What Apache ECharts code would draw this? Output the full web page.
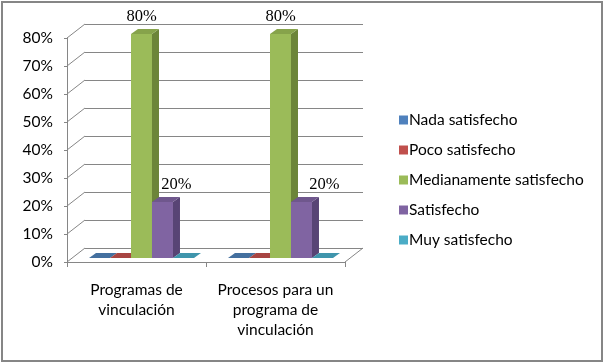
<!DOCTYPE html>
<html><head><meta charset="utf-8">
<script src="https://cdn.jsdelivr.net/npm/echarts@6/dist/echarts.min.js"></script>
<style>html,body{margin:0;padding:0;background:#fff}#c{width:603px;height:362px}</style>
</head><body><div id="c"></div>
<script>
// ---- data ----
const categories = ['Programas de\nvinculación', 'Procesos para un\nprograma de\nvinculación'];
const seriesNames = ['Nada satisfecho', 'Poco satisfecho', 'Medianamente satisfecho', 'Satisfecho', 'Muy satisfecho'];
const nadaSatisfecho = [0, 0];
const pocoSatisfecho = [0, 0];
const medianamenteSatisfecho = [0.8, 0.8];
const satisfecho = [0.2, 0.2];
const muySatisfecho = [0, 0];
const yTicks = [0, 0.1, 0.2, 0.3, 0.4, 0.5, 0.6, 0.7, 0.8];

const seriesValues = [nadaSatisfecho, pocoSatisfecho, medianamenteSatisfecho, satisfecho, muySatisfecho];

// ---- styles ----
const colors = ['#4F81BD', '#C0504D', '#9BBB59', '#8064A2', '#4BACC6'];
const topColors = ['#44709F', '#A84542', '#86A34B', '#6F578D', '#3F95AC'];
const sideColors = ['#375A80', '#873633', '#6C8539', '#584475', '#327A8C'];
const wallDepth = [18, -14];
const barFront = [5, -4];
const barDepth = [7, -5];
const barFrac = 0.151;
const labelShift = {3: [14, 23]};
const gridColor = '#868686';
const sansFont = 'Lato, "Open Sans", sans-serif';

const chart = echarts.init(document.getElementById('c'));

function barRender(k) {
  return function (params, api) {
    const ci = api.value(0), v = api.value(1);
    const base = api.coord([ci, 0]);
    const top = api.coord([ci, v]);
    const catW = api.size([1, 0])[0];
    const bw = catW * barFrac;
    const x0 = base[0] - 2.5 * bw + k * bw + barFront[0];
    const x1 = x0 + bw;
    const yb = base[1] + barFront[1];
    const yt = top[1] + barFront[1];
    const dx = barDepth[0], dy = barDepth[1];
    const children = [];
    if (yb - yt > 0.5) {
      children.push({type: 'polygon', shape: {points: [[x0, yb], [x1, yb], [x1, yt], [x0, yt]]}, style: {fill: colors[k]}});
      children.push({type: 'polygon', shape: {points: [[x1, yb], [x1 + dx, yb + dy], [x1 + dx, yt + dy], [x1, yt]]}, style: {fill: sideColors[k]}});
    }
    children.push({type: 'polygon', shape: {points: [[x0, yt], [x1, yt], [x1 + dx, yt + dy], [x0 + dx, yt + dy]]}, style: {fill: topColors[k]}});
    if (v > 0) {
      const sh = labelShift[k] ? labelShift[k][ci] : 0;
      children.push({type: 'text', style: {text: Math.round(v * 100) + '%', x: (x0 + x1) / 2 + sh, y: yt + dy - 12,
        align: 'center', verticalAlign: 'middle', font: '16.5px "Liberation Serif", "Times New Roman", serif', fill: '#000'}});
    }
    return {type: 'group', children: children};
  };
}

function wallRender(params, api) {
  const v = api.value(0);
  const cs = params.coordSys;
  const y = api.coord([0, v])[1];
  const children = [{type: 'line', shape: {x1: cs.x, y1: y, x2: cs.x + wallDepth[0], y2: y + wallDepth[1]}, style: {stroke: gridColor, lineWidth: 1}}];
  if (v === 0) {
    children.push({type: 'line', shape: {x1: cs.x + cs.width, y1: y, x2: cs.x + cs.width + wallDepth[0], y2: y + wallDepth[1]}, style: {stroke: gridColor, lineWidth: 1}});
  }
  return {type: 'group', children: children};
}

const series = [
  {type: 'custom', name: 'walls', xAxisIndex: 0, yAxisIndex: 0, silent: true, z: 1,
   renderItem: wallRender, data: yTicks.map(t => [t]), encode: {y: 0}}
];
seriesNames.forEach((n, k) => {
  series.push({type: 'custom', name: n, xAxisIndex: 0, yAxisIndex: 0, z: 5,
    itemStyle: {color: colors[k]},
    renderItem: barRender(k),
    data: seriesValues[k].map((v, i) => [i, v])});
});
// back wall placeholder series for the second grid
series.push({type: 'line', name: 'back', xAxisIndex: 1, yAxisIndex: 1, data: [], silent: true});

chart.setOption({
  animation: false,
  backgroundColor: '#fff',
  grid: [
    {left: 67, right: 258, top: 38, bottom: 100},
    {left: 85, right: 240, top: 24, bottom: 114}
  ],
  xAxis: [
    {type: 'category', gridIndex: 0, data: categories, boundaryGap: true,
     axisLine: {show: true, lineStyle: {color: gridColor, width: 1}},
     axisTick: {show: true, length: 5, alignWithLabel: false, lineStyle: {color: gridColor}},
     axisLabel: {interval: 0, margin: 18, color: '#000', fontFamily: sansFont, fontSize: 15.5, lineHeight: 20, align: 'center'}},
    {type: 'category', gridIndex: 1, data: categories, show: false}
  ],
  yAxis: [
    {type: 'value', gridIndex: 0, min: 0, max: 0.8, interval: 0.1,
     axisLine: {show: true, lineStyle: {color: gridColor, width: 1}},
     axisTick: {show: true, length: 3, lineStyle: {color: gridColor}},
     splitLine: {show: false},
     axisLabel: {margin: 14, color: '#000', fontFamily: sansFont, fontSize: 15.5,
       formatter: v => Math.round(v * 100) + '%'}},
    {type: 'value', gridIndex: 1, min: 0, max: 0.8, interval: 0.1,
     axisLine: {show: false}, axisTick: {show: false}, axisLabel: {show: false},
     splitLine: {show: true, lineStyle: {color: gridColor, width: 1}}}
  ],
  legend: {
    data: seriesNames, orient: 'vertical', left: 394, top: 106,
    icon: 'rect', itemWidth: 9, itemHeight: 9, itemGap: 12,
    textStyle: {fontFamily: sansFont, fontSize: 15.5, color: '#000', lineHeight: 18, padding: [0, 0, 0, -4]}
  },
  graphic: [{type: 'rect', shape: {x: 2, y: 2, width: 600, height: 359}, style: {fill: 'none', stroke: '#868686', lineWidth: 2}, z: 100}],
  series: series
});
</script></body></html>
